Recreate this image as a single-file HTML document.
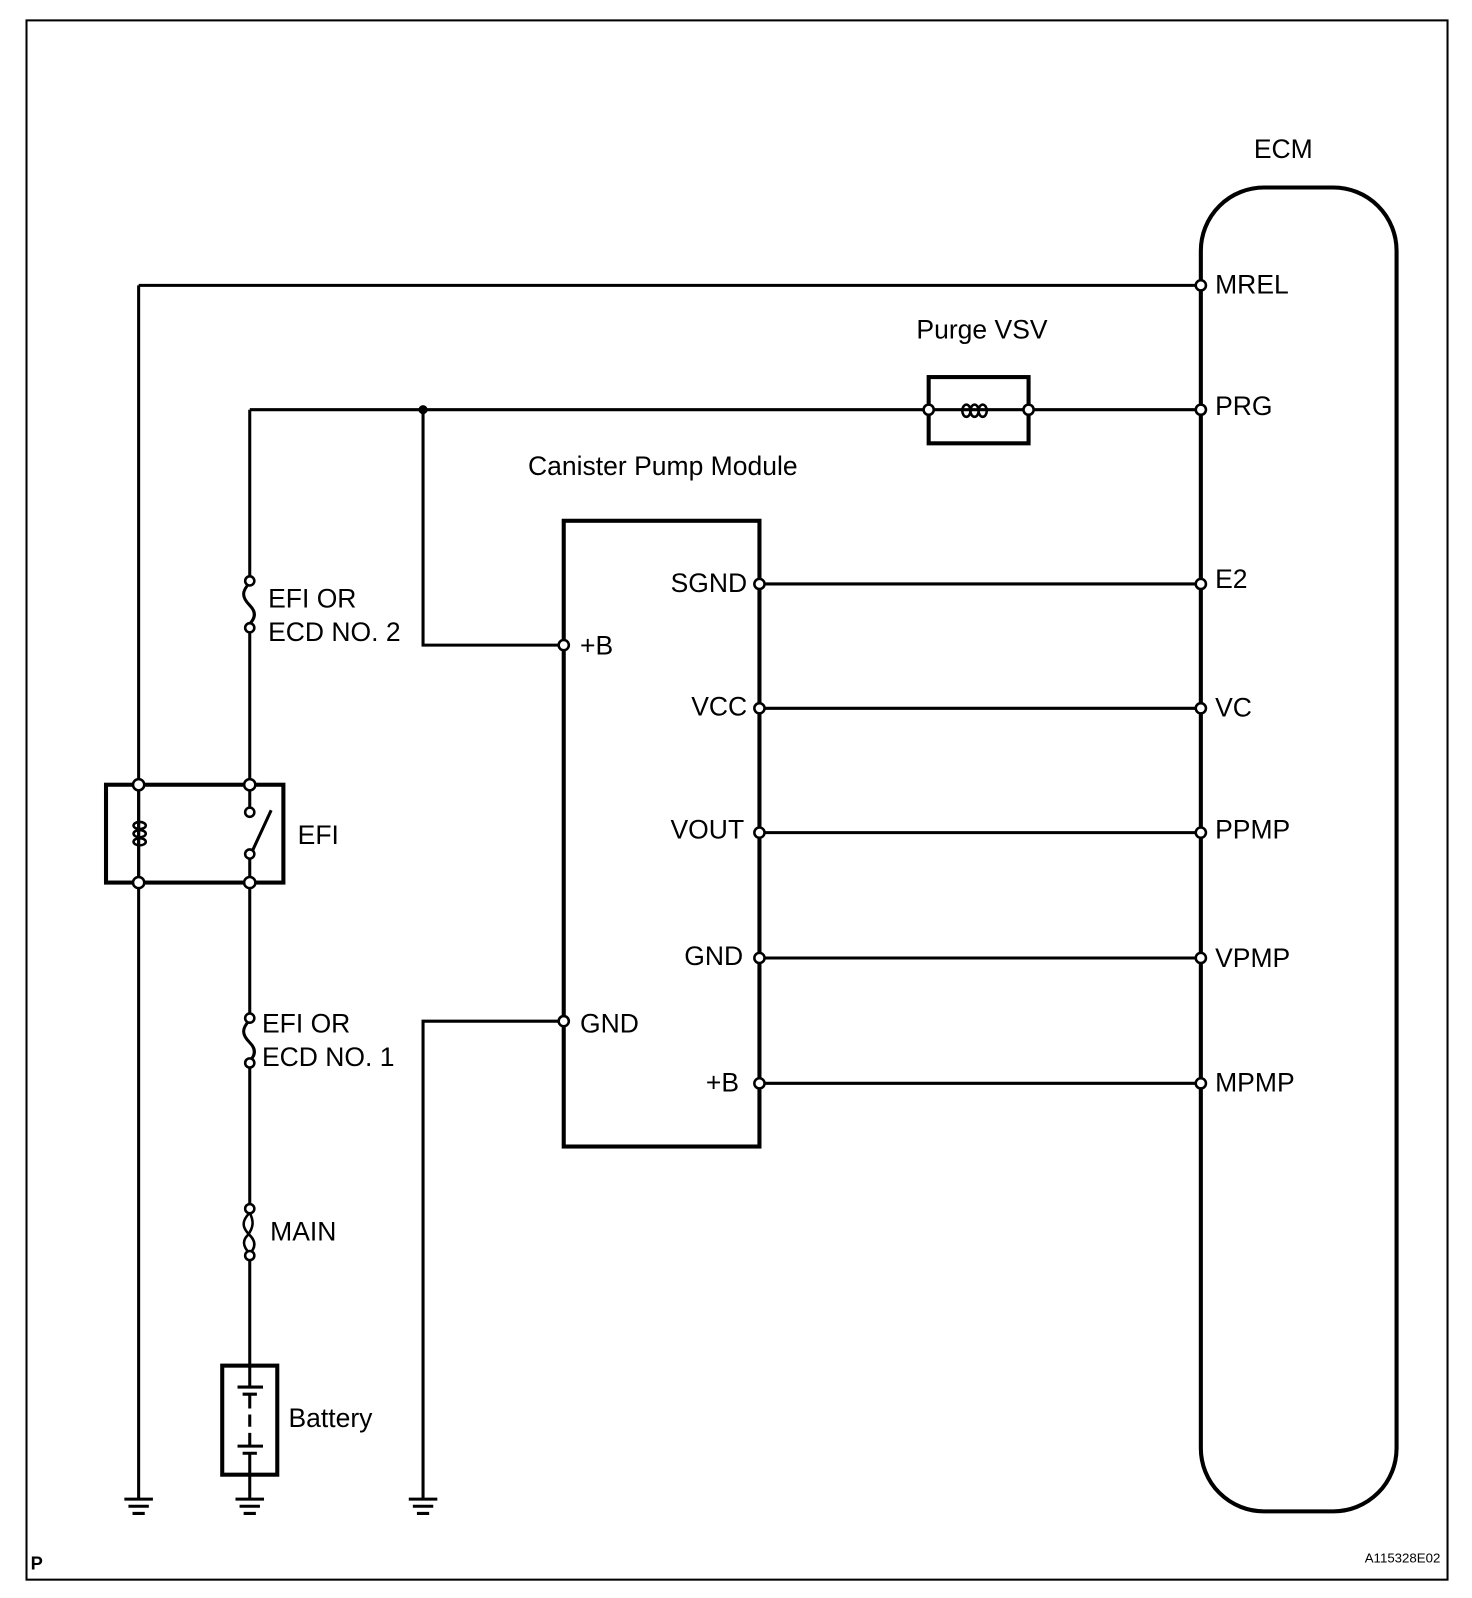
<!DOCTYPE html>
<html><head><meta charset="utf-8"><style>
html,body{margin:0;padding:0;background:#fff}
svg{display:block}
text{font-family:"Liberation Sans",sans-serif;font-size:26px;fill:#000}
</style></head><body>
<svg width="1472" height="1598" viewBox="0 0 1444 1568" preserveAspectRatio="none" xmlns="http://www.w3.org/2000/svg">
<g fill="none" stroke="#000" stroke-width="3">
<rect x="26" y="20" width="1394" height="1530" stroke-width="2"/>
<rect x="1178" y="184" width="192" height="1299" rx="62" ry="62" stroke-width="4"/>
<path d="M136 280H1178M136 280V1470"/>
<path d="M245 402H911M1009 402H1178M245 402V568M245 616V770"/>
<rect x="911" y="370" width="98" height="65" stroke-width="4"/>
<path d="M916 402H1004"/>
<g stroke-width="2.5"><ellipse cx="948" cy="403" rx="4" ry="6"/><ellipse cx="956" cy="403" rx="4" ry="6"/><ellipse cx="964" cy="403" rx="4" ry="6"/></g>
<path d="M415 402V633H553"/>
<rect x="553" y="511" width="192" height="614" stroke-width="4"/>
<path d="M745 573H1178M745 695H1178M745 817H1178M745 940H1178M745 1063H1178"/>
<path d="M415 1470V1002H553"/>
<rect x="104" y="770" width="174" height="96" stroke-width="4"/>
<path d="M136 770V866"/>
<g stroke-width="2.5"><ellipse cx="137" cy="810" rx="6" ry="3.5"/><ellipse cx="137" cy="818" rx="6" ry="3.5"/><ellipse cx="137" cy="826" rx="6" ry="3.5"/></g>
<path d="M245 770V797M245 838V866M248 834L266 795"/>
<path d="M245 572c-8 8-8 14 0 22c6 6 6 12 0 18" stroke-width="3"/>
<path d="M245 866V997M245 1043V1185M245 1232V1340M245 1447V1470"/>
<path d="M245 1001c-8 8-8 14 0 22c6 6 6 12 0 18" stroke-width="3"/>
<path d="M245 1190c-8 8-8 14 0 22c6 6 6 12 0 18M245 1190c4 8 4 14-2 22c-6 6-4 12 2 18" stroke-width="2.5"/>
<rect x="218" y="1340" width="54" height="107" stroke-width="4"/>
<path d="M245 1340V1361M233 1361H258M238 1368H252M245 1368V1382M245 1388V1400M245 1406V1419M233 1419H258M238 1426H252M245 1426V1447"/>
</g>
<g stroke="#000" stroke-width="3">
<path d="M122 1471H150M126 1478H146M130 1485H142"/>
<path d="M231 1471H259M235 1478H255M239 1485H251"/>
<path d="M401 1471H429M405 1478H425M409 1485H421"/>
</g>
<circle cx="415" cy="402" r="4.5" fill="#000"/>
<g fill="#fff" stroke="#000" stroke-width="2.5">
<circle cx="1178" cy="280" r="5"/><circle cx="1178" cy="402" r="5"/><circle cx="1178" cy="573" r="5"/><circle cx="1178" cy="695" r="5"/><circle cx="1178" cy="817" r="5"/><circle cx="1178" cy="940" r="5"/><circle cx="1178" cy="1063" r="5"/>
<circle cx="911" cy="402" r="5"/><circle cx="1009" cy="402" r="5"/>
<circle cx="745" cy="573" r="5"/><circle cx="745" cy="695" r="5"/><circle cx="745" cy="817" r="5"/><circle cx="745" cy="940" r="5"/><circle cx="745" cy="1063" r="5"/>
<circle cx="553" cy="633" r="5"/><circle cx="553" cy="1002" r="5"/>
<circle cx="136" cy="770" r="5.5"/><circle cx="245" cy="770" r="5.5"/><circle cx="136" cy="866" r="5.5"/><circle cx="245" cy="866" r="5.5"/>
<circle cx="245" cy="797" r="4.5"/><circle cx="245" cy="838" r="4.5"/>
<circle cx="245" cy="570" r="4.5"/><circle cx="245" cy="616" r="4.5"/>
<circle cx="245" cy="999" r="4.5"/><circle cx="245" cy="1043" r="4.5"/>
<circle cx="245" cy="1186" r="4.5"/><circle cx="245" cy="1232" r="4.5"/>
</g>
<text x="1230" y="155">ECM</text>
<text x="1192" y="288">MREL</text>
<text x="1192" y="407">PRG</text>
<text x="1192" y="577">E2</text>
<text x="1192" y="703">VC</text>
<text x="1192" y="823">PPMP</text>
<text x="1192" y="949">VPMP</text>
<text x="1192" y="1071">MPMP</text>
<text x="899" y="332">Purge VSV</text>
<text x="518" y="466">Canister Pump Module</text>
<text x="733" y="581" text-anchor="end">SGND</text>
<text x="733" y="702" text-anchor="end">VCC</text>
<text x="730" y="823" text-anchor="end">VOUT</text>
<text x="729" y="947" text-anchor="end">GND</text>
<text x="725" y="1071" text-anchor="end">+B</text>
<text x="569" y="642">+B</text>
<text x="569" y="1013">GND</text>
<text x="263" y="596">EFI OR</text>
<text x="263" y="629">ECD NO. 2</text>
<text x="292" y="828">EFI</text>
<text x="257" y="1013">EFI OR</text>
<text x="257" y="1046">ECD NO. 1</text>
<text x="265" y="1217">MAIN</text>
<text x="283" y="1400">Battery</text>
<text x="30" y="1540" style="font-size:18px;font-weight:bold">P</text>
<text x="1413" y="1533" text-anchor="end" style="font-size:13px">A115328E02</text>
</svg>
</body></html>
